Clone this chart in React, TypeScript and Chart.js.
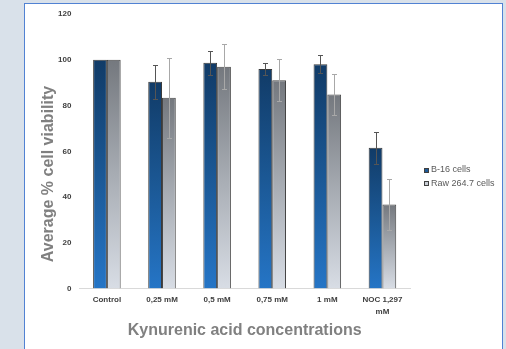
import React, { useEffect, useRef } from 'react';
import { Chart, registerables } from 'chart.js';

Chart.register(...registerables);

const categories: (string | string[])[] = ['Control', '0,25 mM', '0,5 mM', '0,75 mM', '1 mM', ['NOC 1,297', 'mM']];
const seriesNames = ['B-16 cells', 'Raw 264.7 cells'];
const b16Values = [100, 90.4, 98.7, 96, 98, 61.6];
const b16Errors = [0, 7.5, 5.3, 2.8, 4, 7];
const rawValues = [100, 83.4, 97, 91, 84.8, 36.8];
const rawErrors = [0, 17.5, 9.8, 9.2, 9, 11];
const yMin = 0;
const yMax = 120;
const yStep = 20;
const yTitle = 'Average % cell viability';
const xTitle = 'Kynurenic acid concentrations';

const FONT = "'Liberation Sans', Arial, sans-serif";

const b16Stops = ['#113b67', '#1b5895', '#2575c6'];
const rawStops = ['#74787e', '#a7acb3', '#d8dde5'];
const b16Swatch = '#1d5a98';
const rawSwatch = '#c9ced6';
const errorColors = ['#555555', '#a8a8a8'];

function makeGradient(stops: string[], fallback: string) {
  return (ctx: any) => {
    const chart = ctx.chart;
    const y = chart.scales && chart.scales.y;
    if (!chart.chartArea || !y || ctx.type !== 'data') return fallback;
    const top = y.getPixelForValue(ctx.raw);
    const bottom = y.getPixelForValue(0);
    if (!isFinite(top) || !isFinite(bottom) || top === bottom) return fallback;
    const g = chart.ctx.createLinearGradient(0, top, 0, bottom);
    stops.forEach((c, i) => g.addColorStop(i / (stops.length - 1), c));
    return g;
  };
}

const errorBarPlugin = {
  id: 'errorBars',
  afterDatasetsDraw(chart: any) {
    const { ctx } = chart;
    const y = chart.scales.y;
    chart.data.datasets.forEach((ds: any, di: number) => {
      const meta = chart.getDatasetMeta(di);
      const errs: number[] = ds.errors || [];
      meta.data.forEach((bar: any, i: number) => {
        const v = ds.data[i];
        const e = errs[i];
        if (!e) return;
        const x = Math.round(bar.x) + 0.5;
        const yt = Math.round(y.getPixelForValue(v + e)) + 0.5;
        const yb = Math.round(y.getPixelForValue(v - e)) + 0.5;
        ctx.save();
        ctx.strokeStyle = errorColors[di];
        ctx.lineWidth = 1;
        ctx.beginPath();
        ctx.moveTo(x, yt);
        ctx.lineTo(x, yb);
        ctx.moveTo(x - 2.5, yt);
        ctx.lineTo(x + 2.5, yt);
        ctx.moveTo(x - 2.5, yb);
        ctx.lineTo(x + 2.5, yb);
        ctx.stroke();
        ctx.restore();
      });
    });
  },
};

const decorPlugin = {
  id: 'decor',
  afterDraw(chart: any) {
    const { ctx } = chart;
    // Y axis title
    ctx.save();
    ctx.translate(53, 174);
    ctx.rotate(-Math.PI / 2);
    ctx.font = `bold 16px ${FONT}`;
    ctx.fillStyle = '#808080';
    ctx.textAlign = 'center';
    ctx.textBaseline = 'alphabetic';
    ctx.fillText(yTitle, 0, 0);
    ctx.restore();
    // Legend
    const swatches = [b16Swatch, rawSwatch];
    const legendX = 424;
    const legendY = [170, 183.5];
    seriesNames.forEach((name, i) => {
      ctx.save();
      ctx.fillStyle = swatches[i];
      ctx.strokeStyle = '#404040';
      ctx.lineWidth = 1;
      const cy = legendY[i];
      ctx.fillRect(legendX, Math.round(cy - 2.5), 5, 5);
      ctx.strokeRect(legendX + 0.5, Math.round(cy - 2.5) + 0.5, 4, 4);
      ctx.font = `9px ${FONT}`;
      ctx.fillStyle = '#595959';
      ctx.textAlign = 'left';
      ctx.textBaseline = 'middle';
      ctx.fillText(name, legendX + 7, cy);
      ctx.restore();
    });
  },
};

export default function App() {
  const ref = useRef<HTMLCanvasElement | null>(null);

  useEffect(() => {
    if (!ref.current) return;
    const chart = new Chart(ref.current, {
      type: 'bar',
      data: {
        labels: categories as any,
        datasets: [
          {
            label: seriesNames[0],
            data: b16Values,
            errors: b16Errors,
            backgroundColor: makeGradient(b16Stops, b16Swatch),
            borderColor: '#3a3a3a',
            borderWidth: 1,
          } as any,
          {
            label: seriesNames[1],
            data: rawValues,
            errors: rawErrors,
            backgroundColor: makeGradient(rawStops, rawSwatch),
            borderColor: '#454545',
            borderWidth: 1,
          } as any,
        ],
      },
      options: {
        responsive: false,
        animation: false,
        devicePixelRatio: 1,
        datasets: {
          bar: { categoryPercentage: 0.5, barPercentage: 1 },
        },
        layout: { padding: { left: 50, right: 96, top: 14, bottom: 6 } },
        plugins: {
          legend: { display: false },
          tooltip: { enabled: false },
        },
        scales: {
          x: {
            grid: { display: false, drawTicks: false, tickLength: 0 },
            border: { display: true, color: '#d9d9d9', width: 1 },
            ticks: {
              color: '#404040',
              padding: 6,
              maxRotation: 0,
              autoSkip: false,
              font: { family: FONT, size: 8, weight: 'bold', lineHeight: 1.4 },
            },
            title: {
              display: true,
              text: xTitle,
              color: '#808080',
              font: { family: FONT, size: 16, weight: 'bold', lineHeight: 1.0 },
              padding: { top: 0, bottom: 4 },
            },
          },
          y: {
            min: yMin,
            max: yMax,
            grid: { display: false, drawTicks: false, tickLength: 0 },
            border: { display: false },
            ticks: {
              stepSize: yStep,
              color: '#404040',
              padding: 8,
              font: { family: FONT, size: 8, weight: 'bold' },
            },
          },
        },
      },
      plugins: [errorBarPlugin, decorPlugin],
    });
    return () => chart.destroy();
  }, []);

  return (
    <div style={{ position: 'fixed', left: 0, top: 0, width: 506, height: 349, background: '#d9e1ea', overflow: 'hidden' }}>
      <div
        style={{
          position: 'absolute',
          left: 24,
          top: 3,
          width: 479,
          height: 400,
          background: '#ffffff',
          border: '1px solid #5182d3',
          boxSizing: 'border-box',
        }}
      />
      <canvas ref={ref} width={506} height={349} style={{ position: 'absolute', left: 0, top: 0, width: 506, height: 349 }} />
    </div>
  );
}
